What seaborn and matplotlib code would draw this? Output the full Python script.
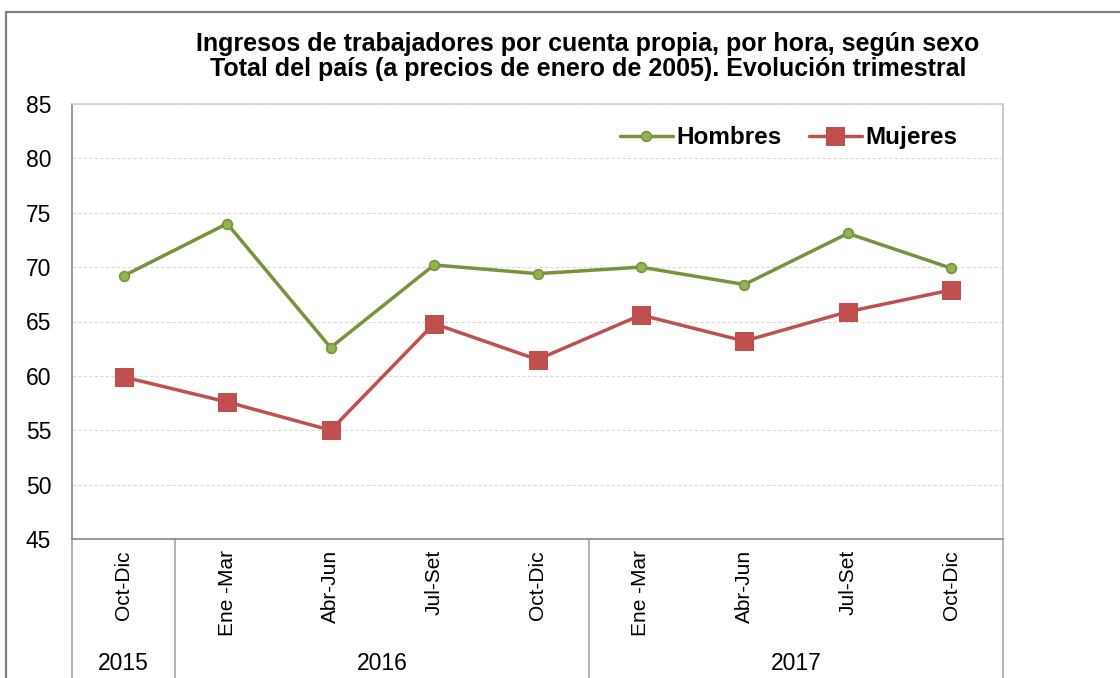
import matplotlib
matplotlib.use('Agg')
import matplotlib.pyplot as plt
from matplotlib.lines import Line2D
import pandas as pd
import seaborn as sns

# Trimestres y años (eje de categorías de dos niveles)
trimestres = ['Oct-Dic', 'Ene -Mar', 'Abr-Jun', 'Jul-Set', 'Oct-Dic',
              'Ene -Mar', 'Abr-Jun', 'Jul-Set', 'Oct-Dic']
anio_trim = ['2015', '2016', '2016', '2016', '2016',
             '2017', '2017', '2017', '2017']

# Ingresos por hora (a precios de enero de 2005)
hombres = [69.2, 74.0, 62.6, 70.2, 69.4, 70.0, 68.4, 73.1, 69.9]
mujeres = [59.9, 57.6, 55.0, 64.8, 61.5, 65.6, 63.2, 65.9, 67.9]

titulo = ('Ingresos de trabajadores por cuenta propia, por hora, según sexo\n'
          'Total del país (a precios de enero de 2005). Evolución trimestral')

df = pd.DataFrame({'pos': range(len(trimestres)),
                   'Hombres': hombres, 'Mujeres': mujeres})
df = df.melt(id_vars='pos', var_name='sexo', value_name='valor')

sns.set_theme(style='white')
plt.rcParams['font.family'] = ['Liberation Sans', 'DejaVu Sans']
plt.rcParams['text.color'] = 'black'

W, H = 1120, 678
fig = plt.figure(figsize=(W / 100, H / 100), dpi=100)
ax = fig.add_axes([72 / W, 1 - 539 / H, (1003 - 72) / W, (539 - 104) / H])

VERDE = '#77933C'
ROJO = '#C0504D'

sns.lineplot(data=df[df['sexo'] == 'Hombres'], x='pos', y='valor', ax=ax,
             color=VERDE, linewidth=2.5, marker='o', markersize=7,
             markerfacecolor='#92B453', markeredgecolor=VERDE,
             markeredgewidth=1.2, label='Hombres')
sns.lineplot(data=df[df['sexo'] == 'Mujeres'], x='pos', y='valor', ax=ax,
             color=ROJO, linewidth=2.5, marker='s', markersize=12.5,
             markerfacecolor=ROJO, markeredgecolor=ROJO, label='Mujeres')

ax.set_xlim(-0.5, len(trimestres) - 0.5)
ax.set_ylim(45, 85)
ax.set_yticks(range(45, 90, 5))
ax.set_xticks(range(len(trimestres)))
ax.set_xticklabels(trimestres, rotation=90)
ax.set_xlabel('')
ax.set_ylabel('')
ax.tick_params(axis='x', length=0, pad=8, labelsize=15, colors='black')
ax.tick_params(axis='y', length=0, pad=15, labelsize=16.5, colors='black')

ax.yaxis.grid(True, color='#D9D9D9', linestyle=(0, (3, 2)), linewidth=0.8)
ax.xaxis.grid(False)
for lado, col in [('left', '#868686'), ('bottom', '#868686'),
                  ('top', '#D0D0D0'), ('right', '#BFBFBF')]:
    ax.spines[lado].set_color(col)
    ax.spines[lado].set_linewidth(1.2)

# separadores del segundo nivel (años)
trans = ax.get_xaxis_transform()
fondo = -(678 - 539) / (539 - 104)
cortes = [-0.5] + [i + 0.5 for i in range(len(anio_trim))
                   if i == len(anio_trim) - 1 or anio_trim[i] != anio_trim[i + 1]]
for xc in cortes:
    ax.plot([xc, xc], [0, fondo], transform=trans, clip_on=False,
            color='#A6A6A6', linewidth=1.2)

for anio in dict.fromkeys(anio_trim):
    idx = [i for i, a in enumerate(anio_trim) if a == anio]
    ax.text((idx[0] + idx[-1]) / 2, -(663 - 539) / (539 - 104), anio,
            transform=trans, ha='center', va='center', fontsize=16.5)

leg = ax.legend(loc='center right', bbox_to_anchor=(0.975, 0.922), ncol=2,
                frameon=False, handlelength=2.2, handletextpad=0.15,
                columnspacing=1.1, prop={'weight': 'bold', 'size': 17.5})

fig.text(588 / W, 1 - 56.5 / H, titulo, ha='center', va='center',
         fontsize=18, fontweight='bold', linespacing=1.05)

# marco exterior del gráfico
fig.add_artist(Line2D([6 / W, 1], [1 - 12 / H] * 2, transform=fig.transFigure,
                      color='#808080', linewidth=1.6))
fig.add_artist(Line2D([6 / W] * 2, [0, 1 - 12 / H], transform=fig.transFigure,
                      color='#808080', linewidth=1.6))

fig.savefig('out.png', dpi=100)
